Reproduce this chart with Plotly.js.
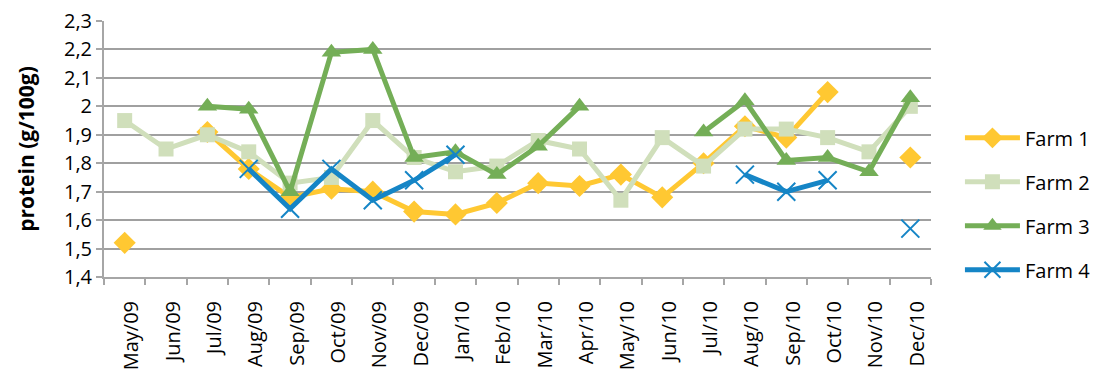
<!DOCTYPE html>
<html><head><meta charset="utf-8">
<script src="https://cdn.plot.ly/plotly-3.0.1.min.js"></script>
<style>body{margin:0;background:#fff}#c{width:1108px;height:383px}</style>
</head><body><div id="c"></div>
<script>
const months = ["May/09","Jun/09","Jul/09","Aug/09","Sep/09","Oct/09","Nov/09","Dec/09","Jan/10","Feb/10","Mar/10","Apr/10","May/10","Jun/10","Jul/10","Aug/10","Sep/10","Oct/10","Nov/10","Dec/10"];
const farm1 = [1.52,null,1.91,1.78,1.68,1.71,1.70,1.63,1.62,1.66,1.73,1.72,1.76,1.68,1.80,1.93,1.89,2.05,null,1.82];
const farm2 = [1.95,1.85,1.90,1.84,1.73,1.75,1.95,1.82,1.77,1.79,1.88,1.85,1.67,1.89,1.79,1.92,1.92,1.89,1.84,2.00];
const farm3 = [null,null,2.00,1.99,1.70,2.19,2.20,1.82,1.84,1.76,1.86,2.00,null,null,1.91,2.02,1.81,1.82,1.77,2.03];
const farm4 = [null,null,null,1.78,1.64,1.78,1.67,1.74,1.83,null,null,null,null,null,null,1.76,1.70,1.74,null,1.57];
const names = ["Farm 1","Farm 2","Farm 3","Farm 4"];

const traces = [
  {y: farm1, name: names[0], line:{color:'#FFC832', width:5}, marker:{symbol:'diamond', size:17, color:'#FFC832'}},
  {y: farm2, name: names[1], line:{color:'#D0DFBB', width:5}, marker:{symbol:'square', size:15, color:'#D0DFBB'}},
  {y: farm3, name: names[2], line:{color:'#74AE57', width:5}, marker:{symbol:'triangle-up', size:17, color:'#74AE57'}},
  {y: farm4, name: names[3], line:{color:'#1585C6', width:5}, marker:{symbol:'x-thin-open', size:18, color:'#1585C6', line:{width:2, color:'#1585C6'}}}
].map((t,i)=>Object.assign({x: months, type:'scatter', mode:'lines+markers', connectgaps:false, legendgroup:'g'+i}, t));

const layout = {
  width:1108, height:383,
  margin:{l:104, r:174, t:21, b:106},
  separators: ',.',
  paper_bgcolor:'#fff', plot_bgcolor:'#fff',
  font:{family:'"Open Sans", "Liberation Sans", sans-serif', color:'#000'},
  showlegend:true,
  legend:{x:1.035, xanchor:'left', y:0.62, yanchor:'top', font:{size:20}, itemwidth:55, tracegroupgap:15, traceorder:'grouped'},
  xaxis:{type:'category', tickangle:-90, tickfont:{size:20}, showgrid:false, showline:true, linecolor:'#a6a6a6', linewidth:2,
         ticks:'outside', tickson:'boundaries', ticklen:6, tickcolor:'#a6a6a6', tickwidth:2, range:[-0.5,19.5],
         ticklabelstandoff:14, ticklabelshift:7},
  yaxis:{range:[1.4,2.3], dtick:0.1, tick0:1.4, tickfont:{size:20}, showgrid:true, gridcolor:'#a0a0a0', gridwidth:2,
         showline:true, linecolor:'#a6a6a6', linewidth:2, ticks:'outside', ticklen:6, tickcolor:'#a6a6a6', tickwidth:2,
         zeroline:false,
         title:{text:'<b>protein (g/100g)</b>', font:{size:21}, standoff:24}}
};
Plotly.newPlot('c', traces, layout, {displayModeBar:false, staticPlot:true});
</script></body></html>
